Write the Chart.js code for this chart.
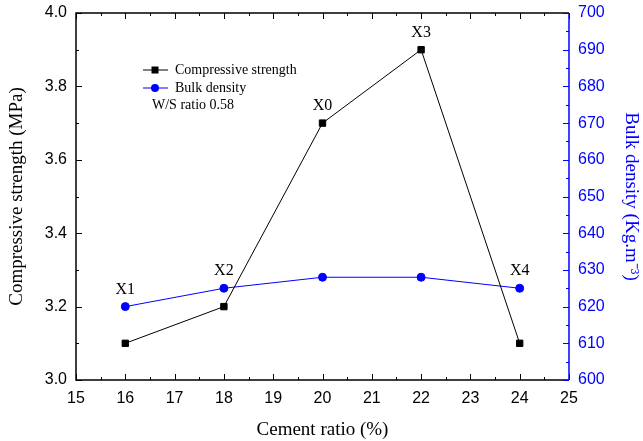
<!DOCTYPE html>
<html>
<head>
<meta charset="utf-8">
<script src="https://cdn.jsdelivr.net/npm/chart.js@4.4.0/dist/chart.umd.min.js"></script>
<style>
  html, body { margin: 0; padding: 0; background: #fff; }
  #wrap { width: 643px; height: 441px; }
</style>
</head>
<body>
<div id="wrap"><canvas id="chart"></canvas></div>
<script>
// Data
const cementRatio = [16, 18, 20, 22, 24];
const strength = [3.1, 3.2, 3.7, 3.9, 3.1];
const bulkDensity = [620, 625, 628, 628, 625];
const pointNames = ['X1', 'X2', 'X0', 'X3', 'X4'];

const serif = '"Liberation Serif", "Times New Roman", serif';
const sans = '"Liberation Sans", Arial, sans-serif';
const blue = '#0000ff';

// frame, inward ticks, legend and point names
const decorations = {
  id: 'decorations',
  afterDraw(chart) {
    const ctx = chart.ctx;
    const a = chart.chartArea;
    const x = chart.scales.x, y = chart.scales.y, y2 = chart.scales.y2;
    ctx.save();
    ctx.lineWidth = 1.5;
    ctx.strokeStyle = '#000';
    ctx.beginPath();
    ctx.moveTo(a.right, a.top); ctx.lineTo(a.left, a.top);
    ctx.lineTo(a.left, a.bottom); ctx.lineTo(a.right, a.bottom);
    ctx.stroke();

    ctx.lineWidth = 1;
    // x ticks, bottom and top
    for (let v = 15; v <= 25.001; v += 0.5) {
      const px = Math.round(x.getPixelForValue(v)) + 0.5;
      const len = Math.abs(v - Math.round(v)) < 0.01 ? 6 : 3;
      ctx.beginPath();
      ctx.moveTo(px, a.bottom); ctx.lineTo(px, a.bottom - len);
      ctx.moveTo(px, a.top); ctx.lineTo(px, a.top + len);
      ctx.stroke();
    }
    // left ticks
    for (let i = 0; i <= 10; i++) {
      const py = Math.round(y.getPixelForValue(3 + i * 0.1)) + 0.5;
      const len = i % 2 === 0 ? 6 : 3;
      ctx.beginPath();
      ctx.moveTo(a.left, py); ctx.lineTo(a.left + len, py);
      ctx.stroke();
    }
    // right axis in blue
    ctx.strokeStyle = blue;
    ctx.lineWidth = 1.5;
    ctx.beginPath();
    ctx.moveTo(a.right, a.top); ctx.lineTo(a.right, a.bottom);
    ctx.stroke();
    ctx.lineWidth = 1;
    for (let i = 0; i <= 20; i++) {
      const py = Math.round(y2.getPixelForValue(600 + i * 5)) + 0.5;
      const len = i % 2 === 0 ? 6 : 3;
      ctx.beginPath();
      ctx.moveTo(a.right, py); ctx.lineTo(a.right - len, py);
      ctx.stroke();
    }

    // legend
    const lx = 143, ly = 70;
    ctx.font = '14px ' + serif;
    ctx.textBaseline = 'middle';
    ctx.textAlign = 'left';
    ctx.strokeStyle = '#000';
    ctx.beginPath(); ctx.moveTo(lx, ly); ctx.lineTo(lx + 25, ly); ctx.stroke();
    ctx.fillStyle = '#000';
    ctx.fillRect(lx + 8.5, ly - 3.5, 7, 7);
    ctx.fillText('Compressive strength', lx + 32, ly);
    ctx.strokeStyle = blue;
    ctx.beginPath(); ctx.moveTo(lx, ly + 18); ctx.lineTo(lx + 25, ly + 18); ctx.stroke();
    ctx.fillStyle = blue;
    ctx.beginPath(); ctx.arc(lx + 12, ly + 18, 4, 0, Math.PI * 2); ctx.fill();
    ctx.fillStyle = '#000';
    ctx.fillText('Bulk density', lx + 32, ly + 18);
    ctx.fillText('W/S ratio 0.58', lx + 9, ly + 35);

    // point names above the upper marker
    const m0 = chart.getDatasetMeta(0).data;
    const m1 = chart.getDatasetMeta(1).data;
    ctx.font = '16px ' + serif;
    ctx.textAlign = 'center';
    pointNames.forEach((name, i) => {
      const top = Math.min(m0[i].y, m1[i].y);
      ctx.fillText(name, m0[i].x, top - 17);
    });
    ctx.restore();
  }
};

new Chart(document.getElementById('chart'), {
  type: 'line',
  data: {
    datasets: [{
      label: 'Compressive strength',
      data: cementRatio.map((c, i) => ({ x: c, y: strength[i] })),
      yAxisID: 'y',
      borderColor: '#000',
      backgroundColor: '#000',
      borderWidth: 1,
      pointStyle: 'rect',
      pointRadius: 4.5,
      pointHoverRadius: 4.5
    }, {
      label: 'Bulk density',
      data: cementRatio.map((c, i) => ({ x: c, y: bulkDensity[i] })),
      yAxisID: 'y2',
      borderColor: blue,
      backgroundColor: blue,
      borderWidth: 1,
      pointStyle: 'circle',
      pointRadius: 4,
      pointHoverRadius: 4
    }]
  },
  options: {
    responsive: true,
    maintainAspectRatio: false,
    animation: false,
    layout: { padding: { top: 13, left: 0, right: 0, bottom: 0 } },
    plugins: { legend: { display: false }, tooltip: { enabled: false } },
    scales: {
      x: {
        type: 'linear', min: 15, max: 25,
        grid: { display: false },
        border: { display: false },
        ticks: { stepSize: 1, padding: 1, color: '#000', font: { family: sans, size: 16 } },
        title: { display: true, text: 'Cement ratio (%)', color: '#000', font: { family: serif, size: 19 }, padding: { top: 4, bottom: 0 } },
        afterFit(s) { s.height = 61; s.paddingLeft = 0; s.paddingRight = 0; }
      },
      y: {
        position: 'left', min: 3.0, max: 4.0,
        grid: { display: false },
        border: { display: false },
        ticks: { stepSize: 0.2, padding: 1, color: '#000', font: { family: sans, size: 16 },
          callback: v => v.toFixed(1) },
        title: { display: true, text: 'Compressive strength (MPa)', color: '#000', font: { family: serif, size: 19 }, padding: { top: 6, bottom: 6 } },
        afterFit(s) { s.width = 76; s.paddingTop = 0; s.paddingBottom = 0; }
      },
      y2: {
        position: 'right', min: 600, max: 700,
        grid: { display: false },
        border: { display: false },
        ticks: { stepSize: 10, padding: 1, color: blue, font: { family: sans, size: 16 } },
        title: { display: true, text: 'Bulk density (Kg.m\u207B\u00B3)', color: blue, font: { family: serif, size: 19 }, padding: { top: 1 } },
        afterFit(s) { s.width = 74; s.paddingTop = 0; s.paddingBottom = 0; }
      }
    }
  },
  plugins: [decorations]
});
</script>
</body>
</html>
